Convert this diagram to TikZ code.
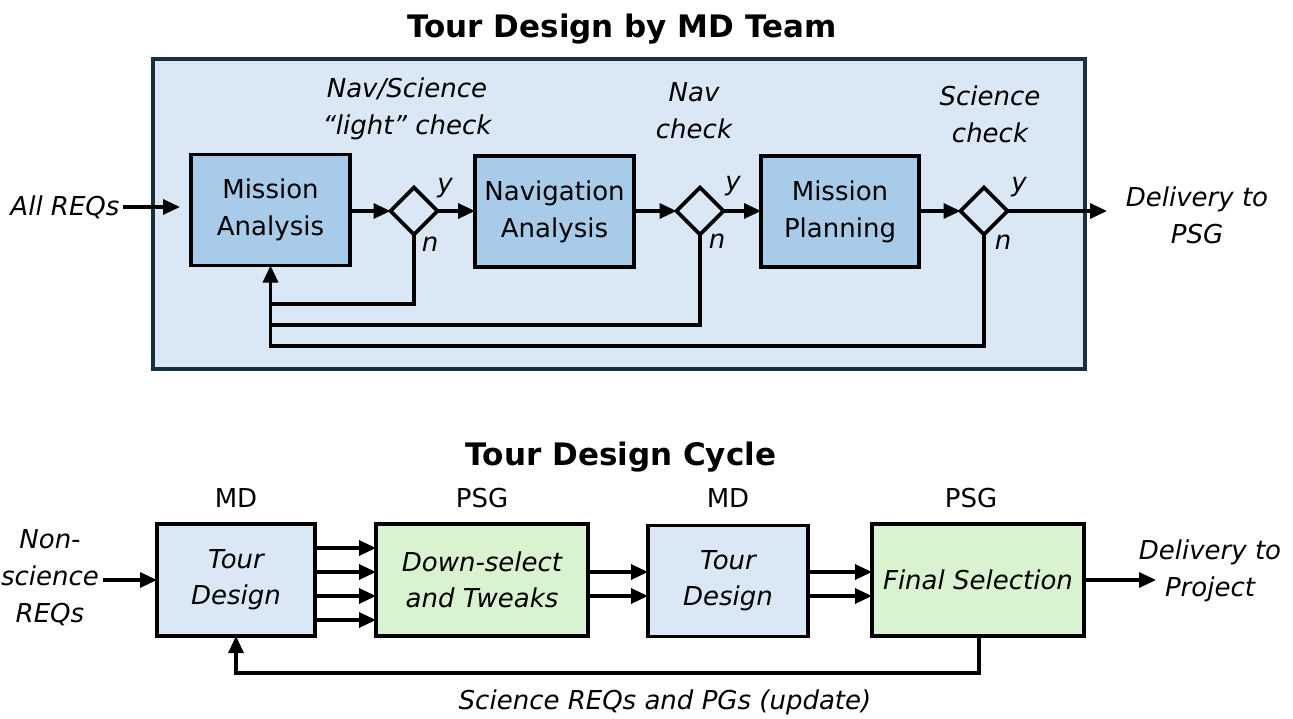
\documentclass[tikz,border=0pt]{standalone}
\usepackage{fontspec}
\setmainfont{DejaVu Sans}
\usetikzlibrary{shapes.geometric,arrows.meta}
\definecolor{outerfill}{HTML}{DAE8F5}
\definecolor{outerdraw}{HTML}{17303F}
\definecolor{innerfill}{HTML}{A9CBEA}
\definecolor{mdfill}{HTML}{DAE8F5}
\definecolor{psgfill}{HTML}{D9F2D0}
\begin{document}
\begin{tikzpicture}[x=1pt,y=-1pt,
  every node/.style={font=\fontsize{26}{37}\selectfont, align=center, inner sep=0pt, outer sep=0pt},
  titletext/.style={font=\fontsize{31}{36}\selectfont\bfseries},
  lbl/.style={font=\fontsize{26}{37}\selectfont\itshape},
  plain/.style={font=\fontsize{26}{37}\selectfont},
  box/.style={draw=black, line width=3.6pt, minimum height=111pt},
  bluebox/.style={box, fill=innerfill},
  mdbox/.style={box, fill=mdfill, font=\fontsize{26}{36}\selectfont\itshape},
  psgbox/.style={box, fill=psgfill, font=\fontsize{26}{36}\selectfont\itshape},
  dec/.style={diamond, draw=black, line width=3.6pt, fill=outerfill, minimum width=47pt, minimum height=47pt},
  line/.style={draw=black, line width=3.3pt},
  arr/.style={line, -{Triangle[length=17pt,width=15pt]}},
]
\useasboundingbox (0,0) rectangle (1293,718);

% ---------- upper diagram ----------
\node[titletext] (title1) at (622,29) {Tour Design by MD Team};
\node[draw=outerdraw, line width=3.6pt, fill=outerfill, minimum width=932pt, minimum height=310pt] (outer) at (619,214) {};

\node[bluebox, minimum width=159pt] (ma) at (270.5,210) {Mission\\Analysis};
\node[dec] (d1) at (414,211) {};
\node[bluebox, minimum width=159pt] (na) at (554.5,211.5) {Navigation\\Analysis};
\node[dec] (d2) at (700,211) {};
\node[bluebox, minimum width=158pt] (mp) at (840,211.5) {Mission\\Planning};
\node[dec] (d3) at (984,211) {};

\node[lbl] (allreq) at (65,207) {All REQs};
\node[lbl] (delpsg) at (1197,215) {Delivery to\\PSG};

\node[lbl] (chk1) at (407,109) {Nav/Science\\“light” check};
\node[lbl] (chk2) at (694,111) {Nav\\check};
\node[lbl] (chk3) at (990,114) {Science\\check};

\node[lbl] (y1) at (445,188) {y};
\node[lbl] (n1) at (430,244) {n};
\node[lbl] (y2) at (733,186) {y};
\node[lbl] (n2) at (717,241) {n};
\node[lbl] (y3) at (1019,187) {y};
\node[lbl] (n3) at (1003,242) {n};

\draw[arr, shorten >=11pt] (allreq.east) ++(3,0) coordinate (a0) -- (a0 -| ma.west);
\draw[arr] (ma.east |- d1.west) -- (d1.west);
\draw[arr] (d1.east) -- (na.west |- d1.east);
\draw[arr] (na.east |- d2.west) -- (d2.west);
\draw[arr] (d2.east) -- (mp.west |- d2.east);
\draw[arr] (mp.east |- d3.west) -- (d3.west);
\coordinate (out1) at (1107,211);
\draw[arr] (d3.east) -- (out1);

\coordinate (l1) at (0,304);
\coordinate (l2) at (0,325);
\coordinate (l3) at (0,346);
\draw[line] (d1.south) |- (ma.south |- l1);
\draw[line] (d2.south) |- (ma.south |- l2);
\draw[arr] (d3.south) |- (ma.south |- l3) -- (ma.south);

% ---------- lower diagram ----------
\node[titletext] (title2) at (621,457) {Tour Design Cycle};

\node[mdbox, minimum width=158pt, minimum height=112pt] (td1) at (236,580) {Tour\\Design};
\node[psgbox, minimum width=212pt, minimum height=112pt] (ds) at (482,580) {Down-select\\and Tweaks};
\node[mdbox, minimum width=160pt, minimum height=111pt] (td2) at (728,581) {Tour\\Design};
\node[psgbox, minimum width=212pt, minimum height=112pt] (fs) at (978,580) {Final Selection};

\node[plain] (who1) at (236,498) {MD};
\node[plain] (who2) at (482,498) {PSG};
\node[plain] (who3) at (728,498) {MD};
\node[plain] (who4) at (971,498) {PSG};

\node[lbl] (nsr) at (50,578) {Non-\\science\\REQs};
\draw[arr] (nsr.east |- td1.west) ++(4,0) coordinate (b0) -- (td1.west);

\foreach \yy in {548,572,596,620}{
  \coordinate (p) at (0,\yy);
  \draw[arr] (td1.east |- p) -- (ds.west |- p);
}
\foreach \yy in {572,596}{
  \coordinate (p) at (0,\yy);
  \draw[arr] (ds.east |- p) -- (td2.west |- p);
  \draw[arr] (td2.east |- p) -- (fs.west |- p);
}

\coordinate (out2) at (1156,580);
\draw[arr] (fs.east) -- (out2);
\node[lbl] (delproj) at (1210,571) {Delivery to\\Project};

\coordinate (l4) at (0,673);
\draw[arr] (fs.south) ++(1,0) coordinate (fsb) -- (fsb |- l4) -- (td1.south |- l4) -- (td1.south);
\node[lbl] (upd) at (665,702) {Science REQs and PGs (update)};
\end{tikzpicture}
\end{document}
